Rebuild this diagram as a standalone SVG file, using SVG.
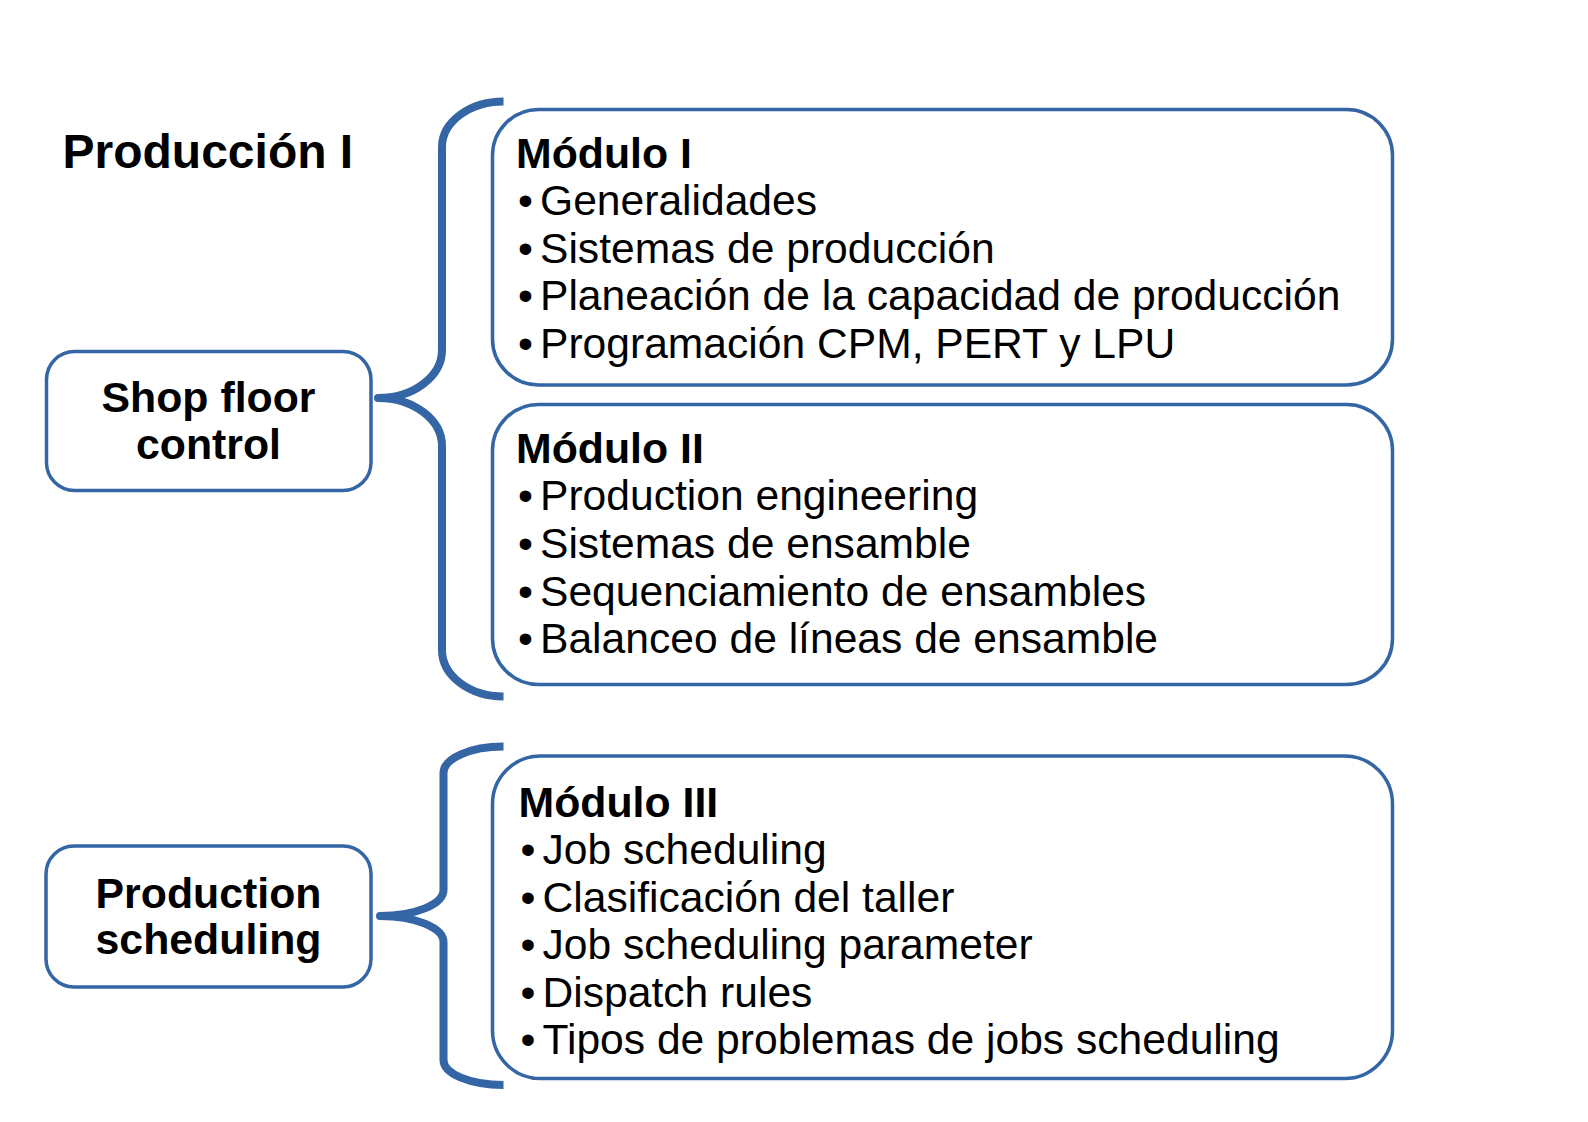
<svg xmlns="http://www.w3.org/2000/svg" width="1588" height="1122" viewBox="0 0 1588 1122">
  <style>
    .box { fill: #ffffff; stroke: #3465a4; stroke-width: 3.5; }
    .brace { fill: none; stroke: #3465a4; stroke-width: 8; stroke-linejoin: round; stroke-linecap: butt; }
    .t { font-family: "Liberation Sans", Arial, sans-serif; font-size: 42.6px; fill: #000000; }
    .b { font-weight: bold; font-size: 42.8px; }
    .title { font-family: "Liberation Sans", Arial, sans-serif; font-size: 48px; font-weight: bold; fill: #000000; }
    .c { text-anchor: middle; }
  </style>
  <rect width="1588" height="1122" fill="#ffffff"/>

  <text id="title" class="title" x="62.5" y="168.3">Producción I</text>

  <g id="connectors">
    <path class="brace" d="M 503.5,101.5 C 469.5,101.5 442,122 442,147 L 442,350 C 442,376.5 413.3,398 378,398 C 413.3,398 442,419.5 442,446 L 442,650 C 442,675.7 469.5,696.5 503.5,696.5"/>
    <path class="brace" d="M 503.5,746.5 C 470,746.5 443.5,758.5 443.5,773 L 443.5,890 C 443.5,904.4 415,916 380,916 C 415,916 443.5,927.6 443.5,942 L 443.5,1060 C 443.5,1073.8 470,1085 503.5,1085"/>
  </g>

  <g id="shop-floor-control">
    <rect class="box" x="46.5" y="351.5" width="324.5" height="139" rx="28" ry="28"/>
    <text class="t b c" x="208.5" y="411.7">Shop floor</text>
    <text class="t b c" x="208.5" y="459.3">control</text>
  </g>

  <g id="production-scheduling">
    <rect class="box" x="46" y="846" width="325" height="141" rx="28" ry="28"/>
    <text class="t b c" x="208.5" y="907.7">Production</text>
    <text class="t b c" x="208.5" y="954.3">scheduling</text>
  </g>

  <g id="modulo-1">
    <rect class="box" x="492.5" y="109.5" width="900" height="275.5" rx="46" ry="46"/>
    <text class="t b" x="516" y="168.3">Módulo I</text>
    <text class="t" x="518" y="215">•</text><text class="t" x="540" y="215">Generalidades</text>
    <text class="t" x="518" y="262.6">•</text><text class="t" x="540" y="262.6">Sistemas de producción</text>
    <text class="t" x="518" y="310.2">•</text><text class="t" x="540" y="310.2">Planeación de la capacidad de producción</text>
    <text class="t" x="518" y="357.8">•</text><text class="t" x="540" y="357.8">Programación CPM, PERT y LPU</text>
  </g>

  <g id="modulo-2">
    <rect class="box" x="492.5" y="404.5" width="900" height="280" rx="46" ry="46"/>
    <text class="t b" x="516" y="462.7">Módulo II</text>
    <text class="t" x="518" y="510.3">•</text><text class="t" x="540" y="510.3">Production engineering</text>
    <text class="t" x="518" y="557.9">•</text><text class="t" x="540" y="557.9">Sistemas de ensamble</text>
    <text class="t" x="518" y="605.5">•</text><text class="t" x="540" y="605.5">Sequenciamiento de ensambles</text>
    <text class="t" x="518" y="653.1">•</text><text class="t" x="540" y="653.1">Balanceo de líneas de ensamble</text>
  </g>

  <g id="modulo-3">
    <rect class="box" x="492.5" y="756" width="900" height="322.5" rx="48" ry="48"/>
    <text class="t b" x="518.5" y="816.5">Módulo III</text>
    <text class="t" x="520.5" y="864">•</text><text class="t" x="542.5" y="864">Job scheduling</text>
    <text class="t" x="520.5" y="911.6">•</text><text class="t" x="542.5" y="911.6">Clasificación del taller</text>
    <text class="t" x="520.5" y="959.2">•</text><text class="t" x="542.5" y="959.2">Job scheduling parameter</text>
    <text class="t" x="520.5" y="1006.8">•</text><text class="t" x="542.5" y="1006.8">Dispatch rules</text>
    <text class="t" x="520.5" y="1054.4">•</text><text class="t" x="542.5" y="1054.4">Tipos de problemas de jobs scheduling</text>
  </g>
</svg>
